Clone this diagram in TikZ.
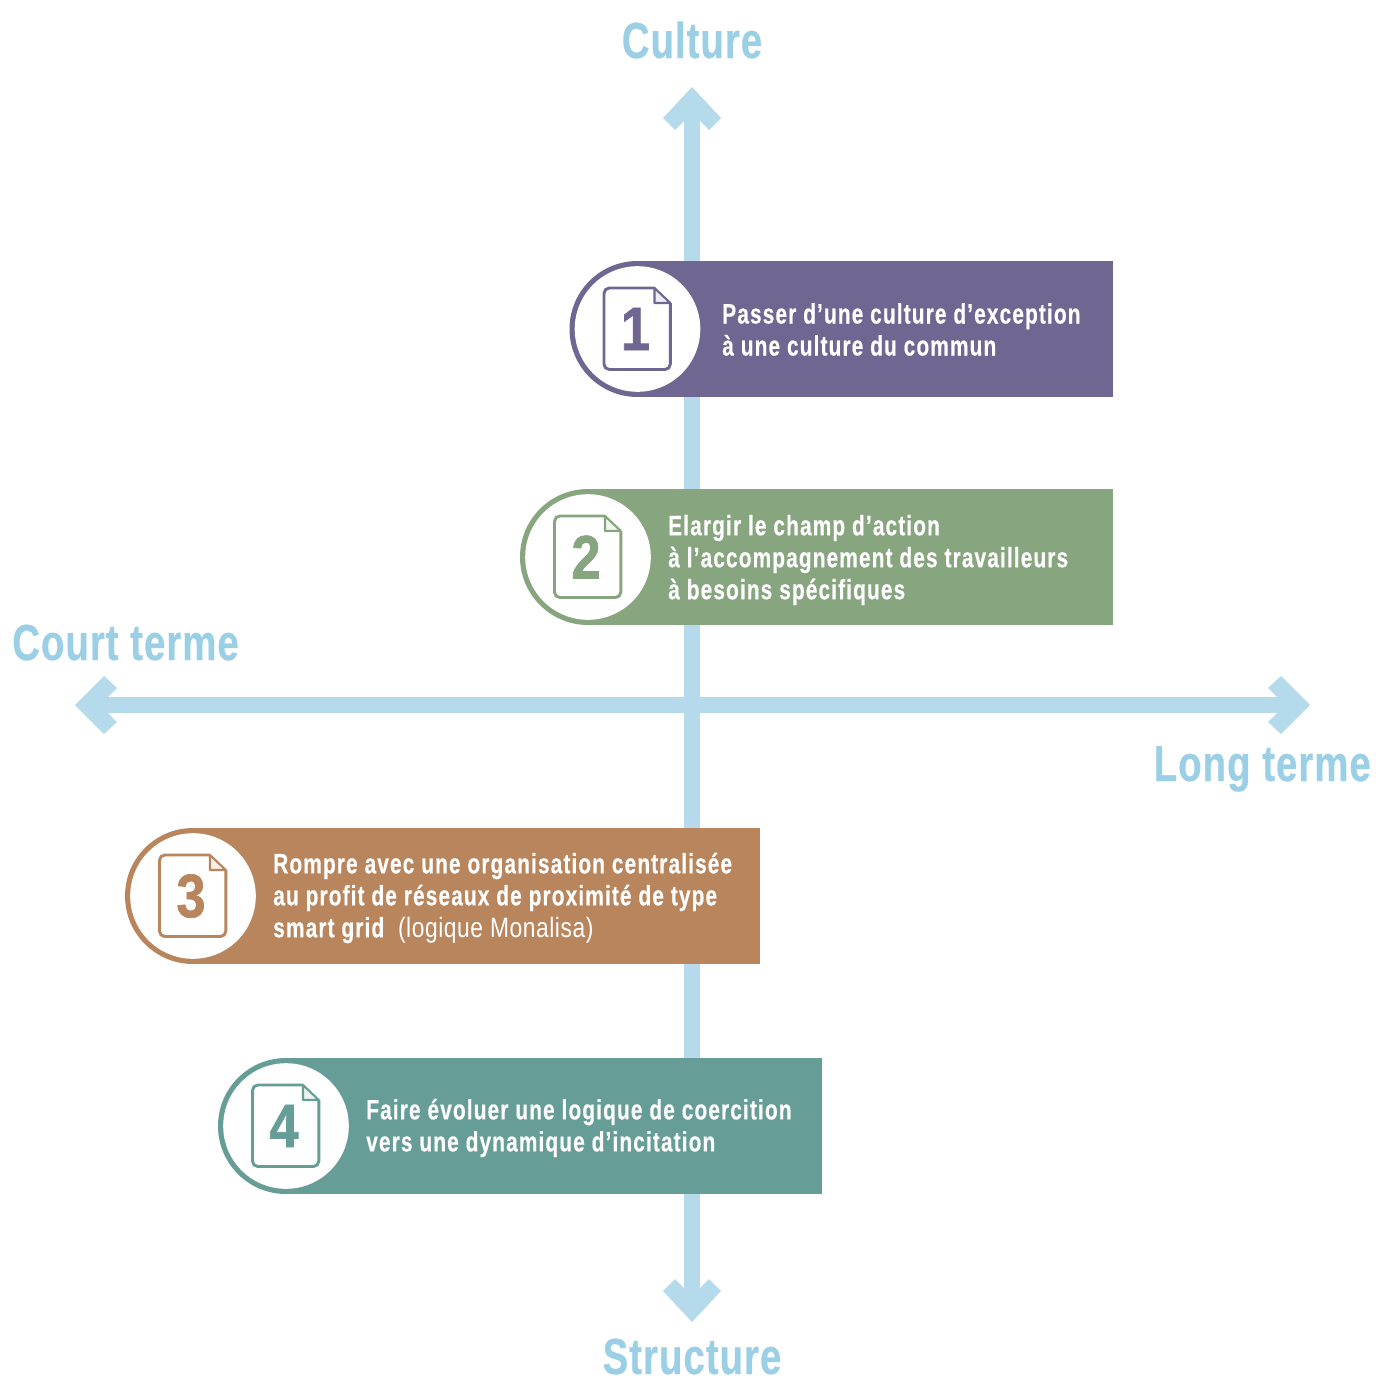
\documentclass[tikz,border=0pt]{standalone}
\usepackage{fontspec}
\setmainfont{Liberation Sans}
\newfontfamily\condb[FakeStretch=0.745,LetterSpace=4,BoldFeatures={FakeBold=0.35}]{Liberation Sans}
\newfontfamily\condr[FakeStretch=0.815,LetterSpace=2]{Liberation Sans}
\newfontfamily\condt[FakeStretch=0.757,LetterSpace=2,BoldFeatures={FakeBold=0.5}]{Liberation Sans}
\newfontfamily\condn[FakeStretch=0.85,BoldFeatures={FakeBold=1.2}]{Liberation Sans}
\definecolor{axis}{HTML}{B4DAEC}
\definecolor{axtext}{HTML}{9BCFE6}
\definecolor{cA}{HTML}{6F6792}
\definecolor{cB}{HTML}{87A57E}
\definecolor{cC}{HTML}{B8855C}
\definecolor{cD}{HTML}{679D97}
\tikzset{
  axisline/.style={draw=axis,line width=12pt},
  axistitle/.style={text=axtext,font=\condt\bfseries\fontsize{38}{42}\selectfont,inner sep=0pt},
  bodytext/.style={text=white,font=\condb\bfseries\fontsize{21}{24}\selectfont,align=left,anchor=west,inner sep=0pt},
  numtext/.style={font=\condn\bfseries\fontsize{46}{50}\selectfont,inner sep=0pt},
}
\newcommand{\banner}[6]{% name, colour, circle x, circle y, right x, number
  \fill[#2] (#3,#4-68) rectangle (#5,#4+68);
  \fill[#2] (#3,#4) circle[radius=68];
  \fill[white] (#3,#4) circle[radius=62.8];
  \draw[#2,line width=2.2pt,line join=round,rounded corners=4pt]
     (#3+17,#4-41) -- (#3-33.5,#4-41) -- (#3-33.5,#4+40.5) -- (#3+32.8,#4+40.5) -- (#3+32.8,#4-26);
  \draw[#2,line width=1.6pt,line join=round,fill=#2!12]
     (#3+17,#4-41) -- (#3+17,#4-26) -- (#3+32.8,#4-26) -- cycle;
  \node[numtext,text=#2] (#1) at (#3-2,#4) {#6};
}
\begin{document}
\begin{tikzpicture}[x=0.75pt,y=-0.75pt]
\useasboundingbox (0,0) rectangle (1376,1378);
\coordinate (top) at (692,100);
\coordinate (bot) at (692,1310);
\coordinate (lft) at (88,705);
\coordinate (rgt) at (1297,705);
\draw[axisline] (top) -- (bot);
\draw[axisline] (lft) -- (rgt);
\fill[axis] (692,87) -- (721,118) -- (709,130) -- (692,113) -- (675,130) -- (663,118) -- cycle;
\fill[axis] (692,1322) -- (721,1291) -- (709,1279) -- (692,1296) -- (675,1279) -- (663,1291) -- cycle;
\fill[axis] (75,705) -- (104,676) -- (117,688) -- (100,705) -- (117,722) -- (104,734) -- cycle;
\fill[axis] (1310,705) -- (1281,676) -- (1268,688) -- (1285,705) -- (1268,722) -- (1281,734) -- cycle;
\node[axistitle,anchor=base] (culture) at (692,58) {Culture};
\node[axistitle,anchor=base] (structure) at (692,1374) {Structure};
\node[axistitle,anchor=base west] (court) at (12,660) {Court terme};
\node[axistitle,anchor=base east] (long) at (1371,781) {Long terme};
\banner{n1}{cA}{637.5}{329}{1113}{1}
\banner{n2}{cB}{588}{557}{1113}{2}
\banner{n3}{cC}{193}{896}{760}{3}
\banner{n4}{cD}{286}{1126}{822}{4}
\node[bodytext] (t1) at (722,329.5) {Passer d’une culture d’exception\\à une culture du commun};
\node[bodytext] (t2) at (668,560) {Elargir le champ d’action\\à l’accompagnement des travailleurs\\à besoins spécifiques};
\node[bodytext] (t3) at (273,898) {Rompre avec une organisation centralisée\\au profit de réseaux de proximité de type\\smart grid\ \ {\condr\mdseries (logique Monalisa)}};
\node[bodytext] (t4) at (366,1128) {Faire évoluer une logique de coercition\\vers une dynamique d’incitation};
\end{tikzpicture}
\end{document}
